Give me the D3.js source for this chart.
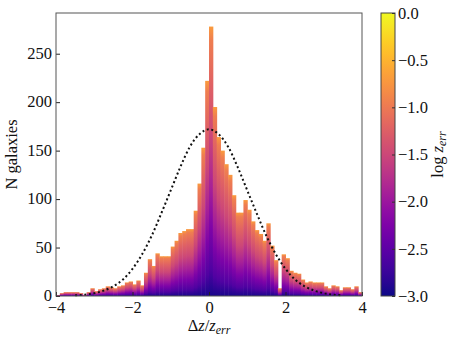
<!DOCTYPE html>
<html>
<head>
<meta charset="utf-8">
<script src="https://cdn.jsdelivr.net/npm/d3@7"></script>
<style>
  body { margin: 0; background: #fff; }
  text { font-family: "Liberation Serif", "DejaVu Serif", serif; fill: #111; }
</style>
</head>
<body>
<div id="chart"></div>
<script>
const width = 458, height = 344;
const margin = { top: 13, left: 56, right: 96, bottom: 48 };

// histogram of dz/z_err, 80 bins of 0.1 from -4 to 4
const binStart = -4;
const binWidth = 0.1;
const counts = [
  1, 3, 4, 4, 4, 4, 3, 1, 4, 8,
  5, 7, 8, 10, 9, 8, 10, 11, 14, 15,
  12, 16, 11, 24, 38, 31, 44, 41, 41, 41,
  51, 57, 65, 67, 69, 69, 88, 116, 153, 222,
  278, 195, 164, 150, 136, 125, 104, 86, 86, 99,
  89, 77, 68, 64, 57, 75, 52, 37, 8, 43,
  39, 26, 24, 23, 17, 14, 15, 14, 14, 14,
  10, 8, 11, 10, 6, 9, 9, 7, 10, 4
];

// dotted gaussian
const gaussX = [-3.5, -3.25, -3, -2.75, -2.5, -2.25, -2, -1.75, -1.5, -1.25, -1, -0.75, -0.5, -0.25, 0,
  0.25, 0.5, 0.75, 1, 1.25, 1.5, 1.75, 2, 2.25, 2.5, 2.75, 3, 3.25, 3.5];
const gaussY = [0.7, 1.4, 2.9, 5.6, 10, 17, 28, 43, 62, 85, 109, 133, 154, 167, 172,
  167, 154, 133, 109, 85, 62, 43, 28, 17, 10, 5.6, 2.9, 1.4, 0.7];

// colour of the stacked galaxies, by fraction of bar height (log z_err)
const stackFrac = [0, 0.1, 0.25, 0.4, 0.6, 0.8, 0.95, 1];
const stackLogZ = [-2.95, -2.6, -2.25, -1.9, -1.5, -1.2, -0.95, -0.7];

const xTicks = [-4, -2, 0, 2, 4];
const yTicks = [0, 50, 100, 150, 200, 250];
const cbTicks = [0, -0.5, -1, -1.5, -2, -2.5, -3];

const svg = d3.select("#chart")
  .append("svg")
  .attr("width", width)
  .attr("height", height);

const x = d3.scaleLinear().domain([-4, 4]).range([margin.left, width - margin.right]);
const y = d3.scaleLinear().domain([0, 292]).range([height - margin.bottom, margin.top]);
const cz = d3.scaleLinear().domain([-3, 0]).range([0, 1]);

const defs = svg.append("defs");
const stackGrad = defs.append("linearGradient")
  .attr("id", "stack")
  .attr("x1", 0).attr("y1", 1).attr("x2", 0).attr("y2", 0);
stackGrad.selectAll("stop")
  .data(stackFrac)
  .join("stop")
  .attr("offset", d => d)
  .attr("stop-color", (d, i) => d3.interpolatePlasma(cz(stackLogZ[i])));

// bars
svg.append("g")
  .selectAll("rect")
  .data(counts)
  .join("rect")
  .attr("x", (d, i) => x(binStart + i * binWidth))
  .attr("width", (d, i) => x(binStart + (i + 1) * binWidth) - x(binStart + i * binWidth) + 0.5)
  .attr("y", d => y(d))
  .attr("height", d => y(0) - y(d))
  .attr("fill", "url(#stack)");

// gaussian
const line = d3.line()
  .x(d => x(d[0]))
  .y(d => y(d[1]))
  .curve(d3.curveMonotoneX);

svg.append("path")
  .datum(gaussX.map((v, i) => [v, gaussY[i]]))
  .attr("d", line)
  .attr("fill", "none")
  .attr("stroke", "#111")
  .attr("stroke-width", 2)
  .attr("stroke-dasharray", "2 2.6");

// axes
const xAxis = svg.append("g")
  .attr("transform", `translate(0,${y(0)})`)
  .call(d3.axisBottom(x).tickValues(xTicks).tickSizeInner(-4).tickSizeOuter(0).tickPadding(5)
    .tickFormat(d3.format("d")));
const yAxis = svg.append("g")
  .attr("transform", `translate(${x(-4)},0)`)
  .call(d3.axisLeft(y).tickValues(yTicks).tickSizeInner(-4).tickSizeOuter(0).tickPadding(4));

for (const ax of [xAxis, yAxis]) {
  ax.select(".domain").remove();
  ax.selectAll("text").style("font-size", "16.5px").attr("fill", "#111");
  ax.selectAll("line").attr("stroke", "#222");
}
yAxis.selectAll("text").attr("dy", "0.28em");

svg.append("rect")
  .attr("x", x(-4)).attr("y", y(292))
  .attr("width", x(4) - x(-4)).attr("height", y(0) - y(292))
  .attr("fill", "none")
  .attr("stroke", "#555")
  .attr("stroke-width", 1);

// labels
svg.append("text")
  .attr("transform", `translate(17,${(y(0) + y(292)) / 2}) rotate(-90)`)
  .attr("text-anchor", "middle")
  .style("font-size", "16.5px")
  .text("N galaxies");

const xl = svg.append("text")
  .attr("x", x(0))
  .attr("y", 331)
  .attr("text-anchor", "middle")
  .style("font-size", "16.5px");
xl.append("tspan").text("Δ");
xl.append("tspan").attr("font-style", "italic").text("z");
xl.append("tspan").text("/");
xl.append("tspan").attr("font-style", "italic").text("z");
xl.append("tspan").attr("font-style", "italic").attr("font-size", "12px").attr("dy", 3).text("err");

// colorbar
const cbX = 381, cbW = 14;
const cy = d3.scaleLinear().domain([-3, 0]).range([y(0), y(292)]);

const cbGrad = defs.append("linearGradient")
  .attr("id", "cbar")
  .attr("x1", 0).attr("y1", 1).attr("x2", 0).attr("y2", 0);
cbGrad.selectAll("stop")
  .data(d3.range(0, 1.0001, 0.05))
  .join("stop")
  .attr("offset", d => d)
  .attr("stop-color", d => d3.interpolatePlasma(d));

svg.append("rect")
  .attr("x", cbX).attr("y", cy(0))
  .attr("width", cbW).attr("height", cy(-3) - cy(0))
  .attr("fill", "url(#cbar)")
  .attr("stroke", "#444")
  .attr("stroke-width", 1);

const cAxis = svg.append("g")
  .attr("transform", `translate(${cbX + cbW},0)`)
  .call(d3.axisRight(cy).tickValues(cbTicks).tickSizeInner(-3).tickSizeOuter(0).tickPadding(3)
    .tickFormat(d3.format(".1f")));
cAxis.select(".domain").remove();
cAxis.selectAll("text").style("font-size", "16.5px").attr("fill", "#111");
cAxis.selectAll("line").attr("stroke", "#333");

const cl = svg.append("text")
  .attr("transform", `translate(443,${(cy(0) + cy(-3)) / 2}) rotate(-90)`)
  .attr("text-anchor", "middle")
  .style("font-size", "16.5px");
cl.append("tspan").text("log ");
cl.append("tspan").attr("font-style", "italic").text("z");
cl.append("tspan").attr("font-style", "italic").attr("font-size", "12px").attr("dy", 3).text("err");
</script>
</body>
</html>
